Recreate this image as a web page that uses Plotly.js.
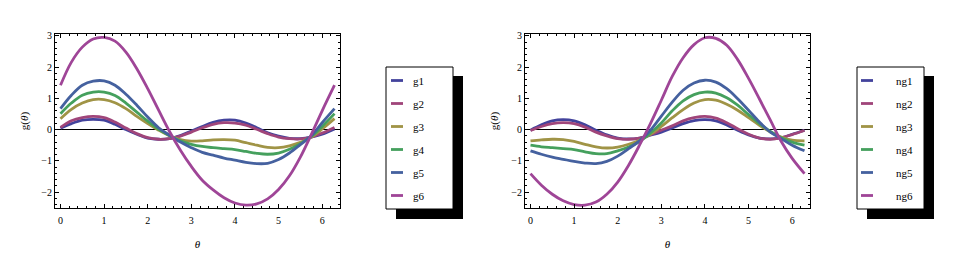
<!DOCTYPE html>
<html>
<head>
<meta charset="utf-8">
<script src="https://cdn.plot.ly/plotly-3.0.1.min.js"></script>
<style>html,body{margin:0;padding:0;background:#fff;}</style>
</head>
<body>
<div id="chart" style="width:963px;height:269px;"></div>
<script>
// ---- data ----
const theta = [0, 0.25, 0.5, 0.75, 1, 1.25, 1.5, 1.75, 2, 2.25, 2.5, 2.75, 3, 3.25, 3.5, 3.75, 4, 4.25, 4.5, 4.75, 5, 5.25, 5.5, 5.75, 6, 6.283];

const g1 = [0.04, 0.19, 0.30, 0.33, 0.30, 0.17, 0.00, -0.15, -0.27, -0.31, -0.29, -0.19, -0.05, 0.10, 0.23, 0.30, 0.30, 0.21, 0.06, -0.10, -0.21, -0.28, -0.29, -0.24, -0.15, 0.02];
const g2 = [0.07, 0.28, 0.38, 0.42, 0.38, 0.24, 0.05, -0.13, -0.26, -0.31, -0.29, -0.21, -0.08, 0.06, 0.17, 0.22, 0.21, 0.14, 0.01, -0.13, -0.24, -0.29, -0.30, -0.24, -0.11, 0.07];
const g3 = [0.35, 0.65, 0.85, 0.96, 0.96, 0.86, 0.67, 0.42, 0.19, -0.02, -0.20, -0.32, -0.37, -0.36, -0.33, -0.32, -0.34, -0.42, -0.50, -0.57, -0.58, -0.52, -0.41, -0.24, 0.02, 0.35];
const g4 = [0.51, 0.85, 1.10, 1.20, 1.20, 1.09, 0.85, 0.56, 0.27, 0.01, -0.19, -0.36, -0.47, -0.54, -0.58, -0.61, -0.64, -0.70, -0.76, -0.79, -0.75, -0.63, -0.45, -0.22, 0.10, 0.51];
const g5 = [0.67, 1.10, 1.42, 1.55, 1.56, 1.42, 1.13, 0.78, 0.40, 0.06, -0.18, -0.40, -0.58, -0.73, -0.82, -0.91, -0.98, -1.05, -1.09, -1.08, -0.96, -0.75, -0.48, -0.20, 0.22, 0.67];
const g6 = [1.42, 2.16, 2.64, 2.90, 2.95, 2.83, 2.48, 1.95, 1.31, 0.62, -0.06, -0.66, -1.18, -1.62, -1.93, -2.18, -2.35, -2.42, -2.38, -2.22, -1.92, -1.48, -0.88, -0.16, 0.60, 1.42];

const ng1 = [-0.02, 0.15, 0.28, 0.32, 0.28, 0.15, -0.02, -0.17, -0.27, -0.30, -0.27, -0.18, -0.08, 0.05, 0.19, 0.29, 0.32, 0.28, 0.15, -0.02, -0.17, -0.27, -0.30, -0.26, -0.15, -0.02];
const ng2 = [-0.03, 0.10, 0.19, 0.22, 0.19, 0.08, -0.08, -0.20, -0.29, -0.31, -0.27, -0.16, -0.02, 0.12, 0.28, 0.38, 0.42, 0.37, 0.22, 0.03, -0.15, -0.27, -0.31, -0.26, -0.16, -0.03];
const ng3 = [-0.36, -0.33, -0.31, -0.32, -0.38, -0.47, -0.55, -0.59, -0.56, -0.47, -0.34, -0.15, 0.10, 0.38, 0.64, 0.85, 0.96, 0.94, 0.81, 0.62, 0.38, 0.14, -0.08, -0.24, -0.34, -0.36];
const ng4 = [-0.50, -0.55, -0.58, -0.61, -0.64, -0.71, -0.77, -0.77, -0.68, -0.56, -0.38, -0.11, 0.21, 0.60, 0.92, 1.12, 1.20, 1.17, 1.02, 0.78, 0.48, 0.19, -0.06, -0.26, -0.40, -0.50];
const ng5 = [-0.68, -0.79, -0.88, -0.95, -1.02, -1.07, -1.09, -1.02, -0.85, -0.61, -0.36, -0.02, 0.43, 0.88, 1.26, 1.49, 1.58, 1.52, 1.31, 0.99, 0.62, 0.24, -0.08, -0.29, -0.50, -0.68];
const ng6 = [-1.41, -1.78, -2.07, -2.28, -2.40, -2.42, -2.32, -2.07, -1.68, -1.14, -0.50, 0.19, 0.94, 1.70, 2.30, 2.72, 2.94, 2.92, 2.70, 2.24, 1.64, 0.98, 0.30, -0.38, -0.92, -1.41];

const leftNames = ['g1', 'g2', 'g3', 'g4', 'g5', 'g6'];
const rightNames = ['ng1', 'ng2', 'ng3', 'ng4', 'ng5', 'ng6'];
const xTickVals = [0, 1, 2, 3, 4, 5, 6];
const yTickVals = [-2, -1, 0, 1, 2, 3];

// ---- styling ----
const colors = ['#43439c', '#a0457a', '#a09446', '#45a05d', '#45619f', '#9f4597'];
const leftSeries = [g1, g2, g3, g4, g5, g6];
const rightSeries = [ng1, ng2, ng3, ng4, ng5, ng6];
const W = 963, H = 269;
const px = v => v / W;
const py = v => 1 - v / H;

const data = [];
leftSeries.forEach((s, i) => data.push({
  x: theta, y: s, type: 'scatter', mode: 'lines', name: leftNames[i],
  xaxis: 'x', yaxis: 'y', legend: 'legend', legendgroup: 'L' + i,
  line: {color: colors[i], width: 2.8, shape: 'spline', smoothing: 1}
}));
rightSeries.forEach((s, i) => data.push({
  x: theta, y: s, type: 'scatter', mode: 'lines', name: rightNames[i],
  xaxis: 'x2', yaxis: 'y2', legend: 'legend2', legendgroup: 'R' + i,
  line: {color: colors[i], width: 2.8, shape: 'spline', smoothing: 1}
}));

const axisBase = {
  showline: true, linecolor: '#000', linewidth: 1, mirror: 'allticks',
  ticks: 'inside', ticklen: 4, tickwidth: 1, tickcolor: '#000',
  showgrid: false, zeroline: false,
  minor: {ticks: 'inside', ticklen: 2, tickwidth: 1, tickcolor: '#000', dtick: 0.2, showgrid: false},
  tickfont: {size: 10, color: '#000'}
};
function xAxis(domain, anchor) {
  return Object.assign({}, axisBase, {
    domain: domain, anchor: anchor, range: [-0.126, 6.409],
    tickmode: 'array', tickvals: xTickVals, ticktext: xTickVals.map(String),
    ticklabelstandoff: 3,
    minor: Object.assign({}, axisBase.minor, {tickmode: 'linear', tick0: 0, dtick: 0.2}),
    title: {text: '<i>θ</i>', font: {size: 11}, standoff: 15}
  });
}
function yAxis(anchor) {
  return Object.assign({}, axisBase, {
    domain: [py(208), py(34)], anchor: anchor, range: [-2.51, 3.06],
    tickmode: 'array', tickvals: yTickVals, ticktext: yTickVals.map(v => v < 0 ? '\u2212' + Math.abs(v) : String(v)),
    minor: Object.assign({}, axisBase.minor, {tickmode: 'linear', tick0: 0, dtick: 0.2}),
    zeroline: true, zerolinecolor: '#000', zerolinewidth: 1,
    title: {text: 'g(<i>θ</i>)', font: {size: 11}, standoff: 10}
  });
}
function legendAt(xLeft) {
  return {
    x: px(xLeft), y: py(66), xanchor: 'left', yanchor: 'top',
    bgcolor: 'rgba(0,0,0,0)', borderwidth: 0, traceorder: 'grouped', tracegroupgap: 4,
    font: {size: 11, color: '#000'}
  };
}
function legendBox(x0, y0, x1, y1) {
  return [
    {type: 'rect', xref: 'paper', yref: 'paper', x0: px(x0 + 10), x1: px(x1 + 10), y0: py(y0 + 9), y1: py(y1 + 10),
     fillcolor: '#000', line: {width: 0}, layer: 'above'},
    {type: 'rect', xref: 'paper', yref: 'paper', x0: px(x0), x1: px(x1), y0: py(y0), y1: py(y1),
     fillcolor: '#fff', line: {color: '#000', width: 1}, layer: 'above'}
  ];
}

const layout = {
  width: W, height: H, margin: {l: 0, r: 0, t: 0, b: 0},
  paper_bgcolor: '#fff', plot_bgcolor: '#fff',
  font: {family: '"Liberation Serif", "Times New Roman", serif', size: 10, color: '#000'},
  showlegend: true,
  xaxis: xAxis([px(55), px(340)], 'y'),
  yaxis: yAxis('x'),
  xaxis2: xAxis([px(525), px(810)], 'y2'),
  yaxis2: yAxis('x2'),
  legend: legendAt(386),
  legend2: legendAt(856),
  shapes: [].concat(legendBox(386, 67, 453, 209), legendBox(857, 67, 924, 209))
};

Plotly.newPlot('chart', data, layout, {staticPlot: true, displayModeBar: false}).then(gd => {
  gd.querySelectorAll('.legendlines path').forEach(p => p.setAttribute('d', 'M5,0h12'));
  gd.querySelectorAll('.legendtext').forEach(t => t.setAttribute('x', 27));
});
</script>
</body>
</html>
